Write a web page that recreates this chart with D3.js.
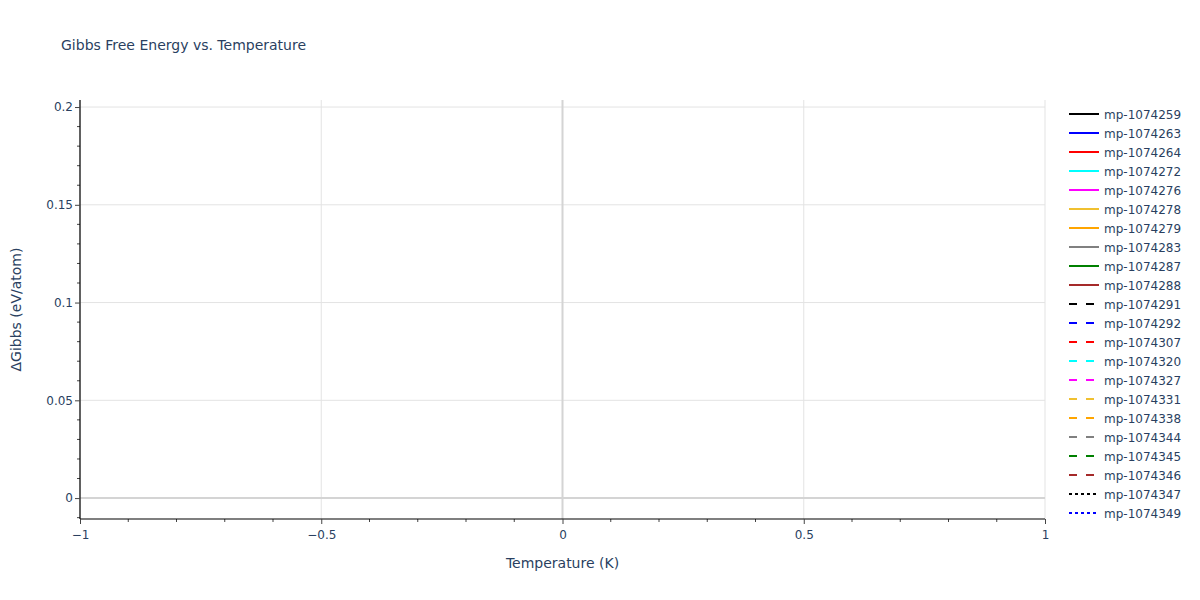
<html>
<head>
    <meta charset="utf-8">
    <title>Gibbs Free Energy vs. Temperature</title>
    <script src="https://cdn.jsdelivr.net/npm/d3@7"></script>
    <style>
        body {
            margin: 0;
            font-family: "DejaVu Sans", Verdana, sans-serif;
            background: #fff;
        }
        text {
            font-family: "DejaVu Sans", Verdana, sans-serif;
        }
        .tick text {
            fill: #2a3f5f;
            font-size: 12px;
        }
        .legend text {
            fill: #2a3f5f;
            font-size: 12px;
        }
    </style>
</head>
<body>
    <script>
    var width = 1200;
    var height = 600;

    // axis ranges (no points are plotted)
    var xDomain = [-1, 1];
    var yDomain = [-0.0107, 0.2036];
    var xMajorTicks = [-1, -0.5, 0, 0.5, 1];
    var yMajorTicks = [0, 0.05, 0.1, 0.15, 0.2];
    var xMinorStep = 0.1;
    var yMinorStep = 0.01;

    // series shown in the legend; their temperature/energy arrays are empty
    var seriesNames = ["mp-1074259","mp-1074263","mp-1074264","mp-1074272","mp-1074276","mp-1074278",
        "mp-1074279","mp-1074283","mp-1074287","mp-1074288","mp-1074291","mp-1074292","mp-1074307",
        "mp-1074320","mp-1074327","mp-1074331","mp-1074338","mp-1074344","mp-1074345","mp-1074346",
        "mp-1074347","mp-1074349"];
    var seriesColors = ["black","blue","red","cyan","magenta","#f0c030","orange","grey","green","brown",
        "black","blue","red","cyan","magenta","#f0c030","orange","grey","green","brown",
        "black","blue"];
    var seriesDash = ["solid","solid","solid","solid","solid","solid","solid","solid","solid","solid",
        "dash","dash","dash","dash","dash","dash","dash","dash","dash","dash",
        "dot","dot"];
    var seriesTemps = seriesNames.map(function() { return []; });
    var seriesGibbs = seriesNames.map(function() { return []; });

    var margin = {left: 80, right: 155, top: 100, bottom: 81};
    var plotW = width - margin.left - margin.right;
    var plotH = height - margin.top - margin.bottom;

    var svg = d3.select("body").append("svg")
        .attr("width", width)
        .attr("height", height);

    var x = d3.scaleLinear().domain(xDomain).range([margin.left, margin.left + plotW]);
    var y = d3.scaleLinear().domain(yDomain).range([margin.top + plotH, margin.top]);

    var xMinor = d3.range(-10, 11).map(function(i) { return i * xMinorStep; });
    var yMinor = d3.range(-1, 21).map(function(i) { return i * yMinorStep; })
        .filter(function(v) { return v >= yDomain[0] && v <= yDomain[1]; });

    // grid
    var grid = svg.append("g");
    grid.selectAll(".xg").data(xMajorTicks.filter(function(v) { return v !== 0; })).enter()
        .append("line")
        .attr("x1", function(d) { return x(d); }).attr("x2", function(d) { return x(d); })
        .attr("y1", margin.top).attr("y2", margin.top + plotH)
        .attr("stroke", "#e3e3e3").attr("stroke-width", 1);
    grid.selectAll(".yg").data(yMajorTicks.filter(function(v) { return v !== 0; })).enter()
        .append("line")
        .attr("y1", function(d) { return y(d); }).attr("y2", function(d) { return y(d); })
        .attr("x1", margin.left).attr("x2", margin.left + plotW)
        .attr("stroke", "#e3e3e3").attr("stroke-width", 1);
    // zero lines
    grid.append("line")
        .attr("x1", x(0)).attr("x2", x(0))
        .attr("y1", margin.top).attr("y2", margin.top + plotH)
        .attr("stroke", "#d4d4d4").attr("stroke-width", 2);
    grid.append("line")
        .attr("y1", y(0)).attr("y2", y(0))
        .attr("x1", margin.left).attr("x2", margin.left + plotW)
        .attr("stroke", "#d4d4d4").attr("stroke-width", 2);

    // (empty) traces
    var line = d3.line()
        .x(function(d) { return x(d[0]); })
        .y(function(d) { return y(d[1]); });
    var dashMap = {solid: null, dash: "8,9", dot: "3,3"};
    svg.append("g").selectAll("path")
        .data(seriesNames.map(function(n, i) { return d3.zip(seriesTemps[i], seriesGibbs[i]); }))
        .enter().append("path")
        .attr("fill", "none")
        .attr("stroke", function(d, i) { return seriesColors[i]; })
        .attr("stroke-width", 2)
        .attr("stroke-dasharray", function(d, i) { return dashMap[seriesDash[i]]; })
        .attr("d", line);

    // minor ticks
    var minor = svg.append("g").attr("stroke", "#444");
    minor.selectAll(".xm").data(xMinor.filter(function(v) { return Math.abs(v * 2 - Math.round(v * 2)) > 1e-9; })).enter()
        .append("line")
        .attr("x1", function(d) { return x(d); }).attr("x2", function(d) { return x(d); })
        .attr("y1", margin.top + plotH).attr("y2", margin.top + plotH + 3);
    minor.selectAll(".ym").data(yMinor.filter(function(v) { return Math.abs(v * 20 - Math.round(v * 20)) > 1e-9; })).enter()
        .append("line")
        .attr("y1", function(d) { return y(d); }).attr("y2", function(d) { return y(d); })
        .attr("x1", margin.left).attr("x2", margin.left - 3);

    // axes
    var xAxis = d3.axisBottom(x).tickValues(xMajorTicks).tickSize(5).tickPadding(6)
        .tickFormat(function(d) { return d3.format("")(d).replace("-", "\u2212"); });
    var yAxis = d3.axisLeft(y).tickValues(yMajorTicks).tickSize(5).tickPadding(2)
        .tickFormat(function(d) { return String(+d.toFixed(2)); });

    var gx = svg.append("g")
        .attr("transform", "translate(0," + (margin.top + plotH) + ")")
        .call(xAxis);
    var gy = svg.append("g")
        .attr("transform", "translate(" + margin.left + ",0)")
        .call(yAxis);
    [gx, gy].forEach(function(g) {
        g.select(".domain").attr("stroke", "#000").attr("stroke-width", 1.2);
        g.selectAll(".tick line").attr("stroke", "#444");
        g.selectAll(".tick text").attr("font-family", "\"DejaVu Sans\", sans-serif");
    });
    gx.select(".domain").attr("d", "M" + margin.left + ",0H" + (margin.left + plotW));
    gy.select(".domain").attr("d", "M0," + (margin.top + plotH) + "V" + margin.top);

    // titles
    svg.append("text")
        .attr("x", 61).attr("y", 50)
        .attr("fill", "#2a3f5f").attr("font-size", 14)
        .text("Gibbs Free Energy vs. Temperature");
    svg.append("text")
        .attr("x", margin.left + plotW / 2).attr("y", 568)
        .attr("text-anchor", "middle")
        .attr("fill", "#2a3f5f").attr("font-size", 14)
        .text("Temperature (K)");
    svg.append("text")
        .attr("transform", "translate(21," + (margin.top + plotH / 2) + ") rotate(-90)")
        .attr("text-anchor", "middle")
        .attr("fill", "#2a3f5f").attr("font-size", 14)
        .text("\u0394Gibbs (eV/atom)");

    // legend
    var legend = svg.append("g").attr("class", "legend")
        .attr("transform", "translate(1069,114)");
    var item = legend.selectAll("g").data(seriesNames).enter().append("g")
        .attr("transform", function(d, i) { return "translate(0," + (i * 19) + ")"; });
    item.append("line")
        .attr("x1", 0).attr("x2", 30).attr("y1", 0).attr("y2", 0)
        .attr("stroke", function(d, i) { return seriesColors[i]; })
        .attr("stroke-width", 2)
        .attr("stroke-dasharray", function(d, i) { return dashMap[seriesDash[i]]; });
    item.append("text")
        .attr("x", 35).attr("y", 4.5)
        .text(function(d) { return d; });
    </script>
</body>
</html>
